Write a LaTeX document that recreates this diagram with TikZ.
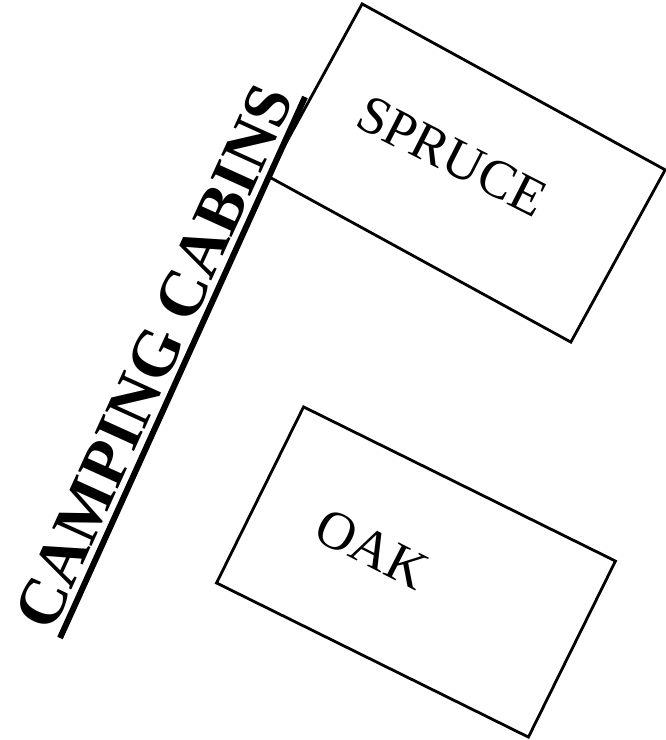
\documentclass[tikz,border=0pt]{standalone}
\usepackage{fontspec}
\setmainfont{Liberation Serif}
\begin{document}
\begin{tikzpicture}[x=1pt,y=-1pt,
  cabin/.style={draw, line width=2.8pt, inner sep=0pt},
  cabinlabel/.style={inner sep=0pt, font=\fontsize{54}{60}\selectfont},
  title/.style={inner sep=0pt, font=\fontsize{66}{72}\selectfont\bfseries}]
\useasboundingbox (0,0) rectangle (666,740);
\node[cabin, rotate=-28.7, minimum width=345.5pt, minimum height=196.4pt] (spruce) at (466.5,173) {};
\node[cabin, rotate=-26.3, minimum width=347.9pt, minimum height=196.4pt] (oak) at (416,572) {};
\node[cabinlabel, rotate=-27] (sprucetext) at (452,156) {SPRUCE};
\node[cabinlabel, rotate=-27] (oaktext) at (372,549) {OAK};
\coordinate (lineA) at (60,638);
\coordinate (lineB) at (305,97);
\draw[line width=6pt] (lineA) -- (lineB);
\node[title, rotate=65.6] (camping) at (154,357) {CAMPING CABINS};
\end{tikzpicture}
\end{document}
